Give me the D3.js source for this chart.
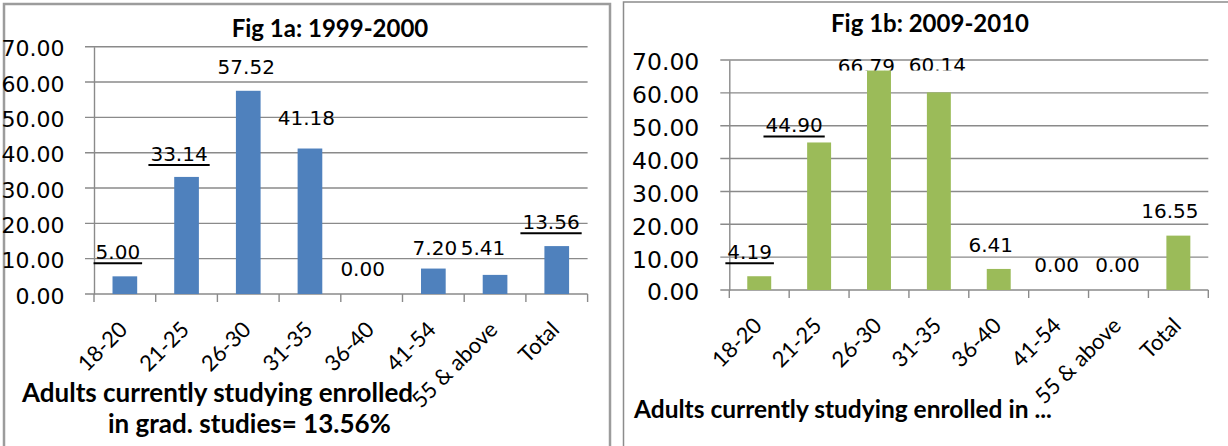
<!DOCTYPE html>
<html>
<head>
<meta charset="utf-8">
<script src="https://cdn.jsdelivr.net/npm/d3@7"></script>
<style>
  body { margin: 0; background: #fff; }
  svg { display: block; }
</style>
</head>
<body>
<svg id="chart" width="1228" height="446"></svg>
<script>
// data
var categories = ["18-20", "21-25", "26-30", "31-35", "36-40", "41-54", "55 & above", "Total"];
var values1999 = [5.00, 33.14, 57.52, 41.18, 0.00, 7.20, 5.41, 13.56];
var values2009 = [4.19, 44.90, 66.79, 60.14, 6.41, 0.00, 0.00, 16.55];
var yTicks = [0, 10, 20, 30, 40, 50, 60, 70];
var underlined1999 = ["18-20", "21-25", "Total"];
var underlined2009 = ["18-20", "21-25"];
var clipped2009 = ["26-30", "31-35"];

var svg = d3.select("#chart");

// layout of each panel (pixels)
var panels = [
  {
    title: "Fig 1a: 1999-2000", values: values1999, color: "#4F81BD",
    underlined: underlined1999, clipped: [],
    frame: { x: 4, y: 4, w: 606, stroke: "#9c9c9c", sw: 2.5 },
    plot: { x0: 94, x1: 587.6, y0: 294, y1: 46.7 },
    tickSize: 22, tickPad: 29.5,
    titleX: 330, titleY: 37,
    nudge: [[-7, -17], [-7.5, -16], [-2, -17], [-3.5, -23.5], [-9, -18], [1.5, -13.6], [-12, -20], [-5.7, -16.8]],
    capSize: 26,
    caption: [{ text: "Adults currently studying enrolled", x: 22, y: 402 },
              { text: "in grad. studies= 13.56%", x: 108, y: 433 }]
  },
  {
    title: "Fig 1b: 2009-2010", values: values2009, color: "#9BBB59",
    underlined: underlined2009, clipped: clipped2009,
    frame: { x: 623.5, y: 2, w: 620, stroke: "#8c8c8c", sw: 1.5 },
    plot: { x0: 729.3, x1: 1208.3, y0: 290, y1: 60 },
    tickSize: 23.5, tickPad: 30,
    titleX: 930, titleY: 32,
    nudge: [[-9.6, -17], [-25, -10], [-12.6, 2], [-1.5, -20], [-8, -17.3], [-2, -18.3], [-1, -18.3], [-8.5, -17.3]],
    capSize: 24.5,
    caption: [{ text: "Adults currently studying enrolled in ...", x: 634, y: 418 }]
  }
];

svg.append("rect").attr("width", 1228).attr("height", 446).attr("fill", "#fff");

panels.forEach(function (p, pi) {
  var g = svg.append("g");
  var f = p.frame;
  g.append("rect")
    .attr("x", f.x).attr("y", f.y)
    .attr("width", f.w).attr("height", 500)
    .attr("fill", "none").attr("stroke", f.stroke).attr("stroke-width", f.sw);

  var x = d3.scaleBand().domain(categories)
    .range([p.plot.x0, p.plot.x1])
    .paddingInner(0.6).paddingOuter(0.3);
  var y = d3.scaleLinear().domain([0, 70]).range([p.plot.y0, p.plot.y1]);
  var step = (p.plot.x1 - p.plot.x0) / categories.length;

  // gridlines
  g.selectAll(".grid").data(yTicks).join("line")
    .attr("x1", p.plot.x0 - 9).attr("x2", p.plot.x1)
    .attr("y1", function (d) { return y(d); }).attr("y2", function (d) { return y(d); })
    .attr("stroke", "#8a8a8a").attr("stroke-width", 1.4);

  // y axis
  var yAxis = d3.axisLeft(y).tickValues(yTicks).tickSize(0).tickPadding(p.tickPad)
    .tickFormat(d3.format(".2f"));
  var ya = g.append("g").attr("transform", "translate(" + p.plot.x0 + ",0)").call(yAxis);
  ya.select(".domain").attr("stroke", "#8a8a8a").attr("stroke-width", 1.4);
  ya.selectAll("text")
    .attr("font-family", "DejaVu Sans").attr("font-size", p.tickSize)
    .attr("fill", "#000").attr("dy", "0.42em");

  // x axis ticks at category boundaries
  var bounds = d3.range(categories.length + 1).map(function (i) { return p.plot.x0 + i * step; });
  g.selectAll(".xt").data(bounds).join("line")
    .attr("x1", function (d) { return d; }).attr("x2", function (d) { return d; })
    .attr("y1", p.plot.y0).attr("y2", p.plot.y0 + 8)
    .attr("stroke", "#8a8a8a").attr("stroke-width", 1.4);

  g.selectAll(".xl").data(categories).join("text")
    .attr("transform", function (d) {
      return "translate(" + (x(d) + x.bandwidth() / 2 + 4) + "," + (p.plot.y0 + 37) + ") rotate(-45)";
    })
    .attr("text-anchor", "end")
    .attr("font-family", "Lato").attr("font-size", 22).attr("fill", "#000")
    .text(function (d) { return d; });

  // bars
  g.selectAll(".bar").data(p.values).join("rect")
    .attr("x", function (d, i) { return x(categories[i]); })
    .attr("y", function (d) { return y(d); })
    .attr("width", x.bandwidth())
    .attr("height", function (d) { return y(0) - y(d); })
    .attr("fill", p.color);

  // data labels
  var clipId = "clip" + pi;
  svg.append("clipPath").attr("id", clipId).append("rect")
    .attr("x", 0).attr("y", 0).attr("width", 1228)
    .attr("height", y(d3.max(p.values)));

  g.selectAll(".lbl").data(p.values).join("text")
    .attr("x", function (d, i) { return x(categories[i]) + x.bandwidth() / 2 + p.nudge[i][0]; })
    .attr("y", function (d, i) { return y(d) + p.nudge[i][1]; })
    .attr("text-anchor", "middle")
    .attr("font-family", "DejaVu Sans").attr("font-size", 20).attr("fill", "#000")
    .attr("clip-path", function (d, i) {
      return p.clipped.indexOf(categories[i]) >= 0 ? "url(#" + clipId + ")" : null;
    })
    .text(function (d) { return d3.format(".2f")(d); })
    .each(function (d, i) {
      if (p.underlined.indexOf(categories[i]) < 0) return;
      var t = d3.select(this);
      var w = this.getComputedTextLength();
      var cx = +t.attr("x"), by = +t.attr("y");
      g.append("line")
        .attr("x1", cx - w / 2 - 2).attr("x2", cx + w / 2 + 2)
        .attr("y1", by + 4).attr("y2", by + 4)
        .attr("stroke", "#000").attr("stroke-width", 2);
    });

  // title
  g.append("text")
    .attr("x", p.titleX).attr("y", p.titleY)
    .attr("text-anchor", "middle")
    .attr("font-family", "Lato").attr("font-weight", "bold").attr("font-size", 24)
    .attr("fill", "#000")
    .text(p.title);

  // caption under the axis
  g.selectAll(".cap").data(p.caption).join("text")
    .attr("x", function (d) { return d.x; }).attr("y", function (d) { return d.y; })
    .attr("font-family", "Lato").attr("font-weight", "bold").attr("font-size", p.capSize)
    .attr("fill", "#000")
    .text(function (d) { return d.text; });
});
</script>
</body>
</html>
